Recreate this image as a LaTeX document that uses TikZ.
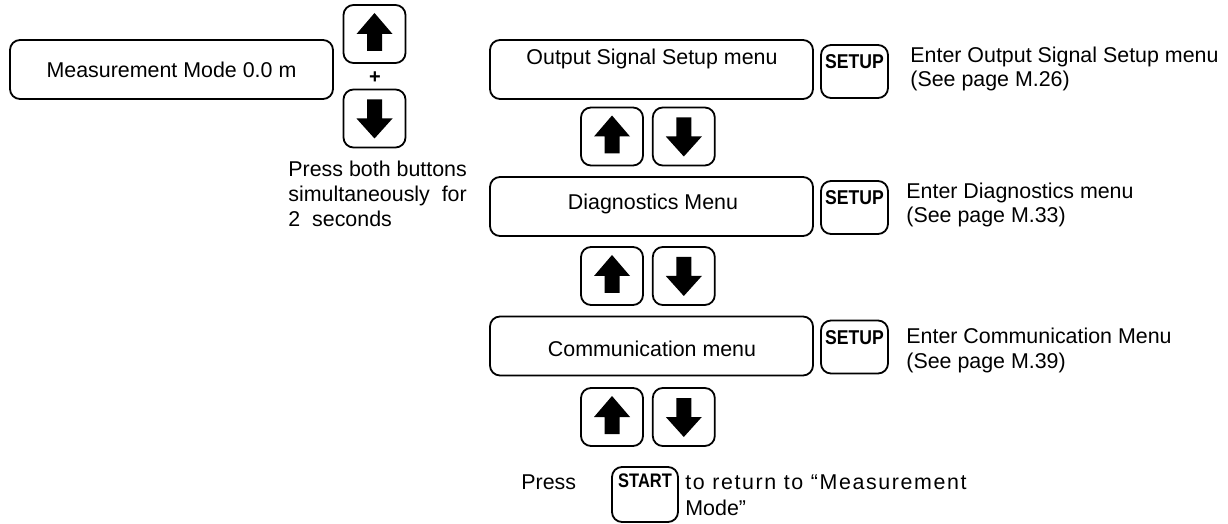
\documentclass[tikz,border=0pt]{standalone}
\usepackage{fontspec}
\setmainfont{Liberation Sans}
\usetikzlibrary{positioning}

\begin{document}
\begin{tikzpicture}[x=0.5pt, y=-0.5pt,
    box/.style={draw, line width=0.9pt, rounded corners=5pt, inner sep=0pt},
    menu/.style={box, minimum width=161.5pt, minimum height=29.5pt,
      font=\fontsize{10.7}{12.5}\selectfont},
    key/.style={box, minimum width=31pt, minimum height=29pt},
    upkey/.style={key, path picture={\fill[sharp corners] (path picture bounding box.center)
      ++(0,-21) -- ++(18,21) -- ++(-10.5,0) -- ++(0,17) -- ++(-15,0) -- ++(0,-17) -- ++(-10.5,0) -- cycle;}},
    downkey/.style={key, path picture={\fill[sharp corners] (path picture bounding box.center)
      ++(0,20) -- ++(18,-20) -- ++(-10.5,0) -- ++(0,-19) -- ++(-15,0) -- ++(0,19) -- ++(-10.5,0) -- cycle;}},
    setkey/.style={key, minimum width=33.5pt, minimum height=26.5pt,
      font=\bfseries\fontsize{10}{10}\selectfont\addfontfeature{FakeStretch=0.88},
      text height=7pt, text depth=9.5pt},
    startkey/.style={key, minimum width=33pt, minimum height=27.5pt,
      font=\bfseries\fontsize{9.8}{9.8}\selectfont\addfontfeature{FakeStretch=0.84},
      text height=7pt, text depth=14pt},
    txt/.style={font=\fontsize{10.7}{12.3}\selectfont, inner sep=0pt, align=left}
  ]
    \useasboundingbox (0,0) rectangle (1228,524);
    % entry: measurement mode and the two keys pressed together
    \node[menu] (m0) at (171.5,69.5) {Measurement Mode 0.0 m};
    \node[upkey] (u0) at (374.5,34) {};
    \node[font=\bfseries\fontsize{10}{10}\selectfont, inner sep=0pt] (plus) at (375,78) {+};
    \node[downkey] (d0) at (374.5,118.5) {};
    \node[txt, anchor=base west, font=\fontsize{10.7}{12.5}\selectfont] (hint) at (288,227)
      {Press both buttons\\simultaneously\ \ for\\2\ \ seconds};
    % menu column
    \node[menu] (m1) at (651.5,69.5) {};
    \node[txt, anchor=base] (t1) at (652,65) {Output Signal Setup menu};
    \node[setkey] (s1) at (854.5,71.5) {SETUP};
    \node[txt, anchor=base west] (e1) at (910,87) {Enter Output Signal Setup menu\\(See page M.26)};
    \node[upkey] (u1) at (612,136.5) {};
    \node[downkey, right=4pt of u1] (d1) {};
    \node[menu] (m2) at (651.5,206.5) {};
    \node[txt, anchor=base] (t2) at (653,210) {Diagnostics Menu};
    \node[setkey] (s2) at (854.5,207.5) {SETUP};
    \node[txt, anchor=base west] (e2) at (906,223) {Enter Diagnostics menu\\(See page M.33)};
    \node[upkey] (u2) at (612,276) {};
    \node[downkey, right=4pt of u2] (d2) {};
    \node[menu] (m3) at (651.5,346) {};
    \node[txt, anchor=base] (t3) at (652,357) {Communication menu};
    \node[setkey] (s3) at (854.5,347) {SETUP};
    \node[txt, anchor=base west] (e3) at (906,368) {Enter Communication Menu\\(See page M.39)};
    \node[upkey] (u3) at (612,417) {};
    \node[downkey, right=4pt of u3] (d3) {};
    % return to measurement mode
    \node[txt, anchor=base west] (press) at (521,489) {Press};
    \node[startkey] (st) at (645,494.5) {START};
    \node[txt, anchor=base west, font=\fontsize{10.7}{13}\selectfont] (ret) at (685,515)
      {{\addfontfeature{LetterSpace=7.5}to return to “Measurement}\\Mode”};
  \end{tikzpicture}
\end{document}
